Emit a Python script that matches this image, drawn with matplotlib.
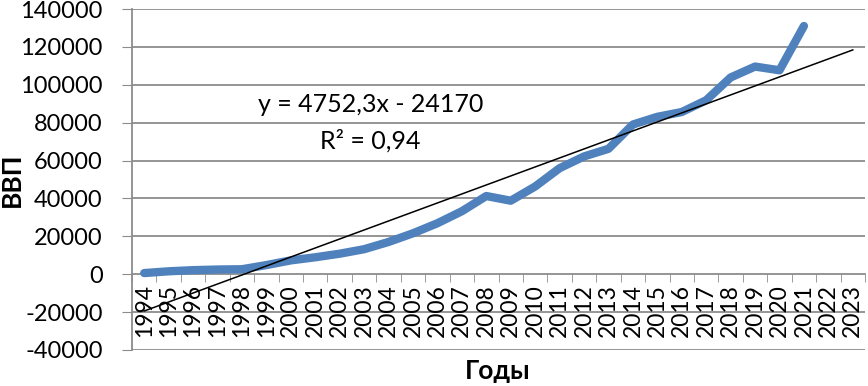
import numpy as np
import matplotlib.pyplot as plt
from matplotlib.ticker import FixedLocator

# data
years = [str(y) for y in range(1994, 2024)]
gdp = [611, 1540, 2146, 2479, 2630, 4823, 7306, 8944, 10831, 13208,
       17027, 21610, 26917, 33248, 41277, 38807, 46309, 55967, 62177, 66190,
       79030, 83087, 85616, 91843, 103862, 109608, 107658, 131015]
trend_slope = 4752.3
trend_intercept = -24170
y_ticks = list(range(-40000, 140001, 20000))

plt.rcParams['font.family'] = ['Lato', 'DejaVu Sans']

fig = plt.figure(figsize=(8.68, 3.86), dpi=100)
ax = fig.add_axes([132 / 868, 1 - 350 / 386, 733 / 868, 341 / 386])

grid_c = "#8c8c8c"
for v in y_ticks:
    if v != 0:
        ax.axhline(v, color=grid_c, linewidth=1.3, zorder=1)

x = np.arange(len(gdp))
ax.plot(x, gdp, color="#4F81BD", linewidth=6, solid_joinstyle="round",
        solid_capstyle="round", zorder=3)

# linear trend line (Excel style, x = 1..30)
xt = np.arange(len(years))
ax.plot(xt, trend_slope * (xt + 1) + trend_intercept, color="black",
        linewidth=1.1, zorder=4)

ax.set_xlim(-0.5, len(years) - 0.5)
ax.set_ylim(-40000, 140000)
ax.set_yticks(y_ticks)
ax.set_yticklabels([str(v) for v in y_ticks], fontsize=17)
ax.tick_params(axis="y", direction="out", length=7, color=grid_c, pad=14)

ax.spines["bottom"].set_position(("data", 0))
ax.spines["bottom"].set_color(grid_c)
ax.spines["bottom"].set_linewidth(1.3)
ax.spines["left"].set_color(grid_c)
ax.spines["left"].set_linewidth(1.3)
ax.spines["top"].set_visible(False)
ax.spines["right"].set_visible(False)

ax.set_xticks(xt)
ax.set_xticklabels(years, rotation=90, fontsize=16.5, va="top")
ax.xaxis.set_minor_locator(FixedLocator(np.arange(-0.5, len(years), 1.0)))
ax.tick_params(axis="x", which="major", length=0, pad=7)
ax.tick_params(axis="x", which="minor", direction="out", length=6, color=grid_c)

ax.text(9.25, 80000, "y = 4752,3x - 24170\nR² = 0,94", ha="center", va="center",
        fontsize=18, linespacing=1.65, zorder=5)

fig.text(12 / 868, 1 - 180 / 386, "ВВП", rotation=90, ha="center", va="center",
         fontsize=19, fontweight="bold")
fig.text(498 / 868, 1 - 371 / 386, "Годы", ha="center", va="center",
         fontsize=19, fontweight="bold")

fig.savefig("out.png", dpi=100)
